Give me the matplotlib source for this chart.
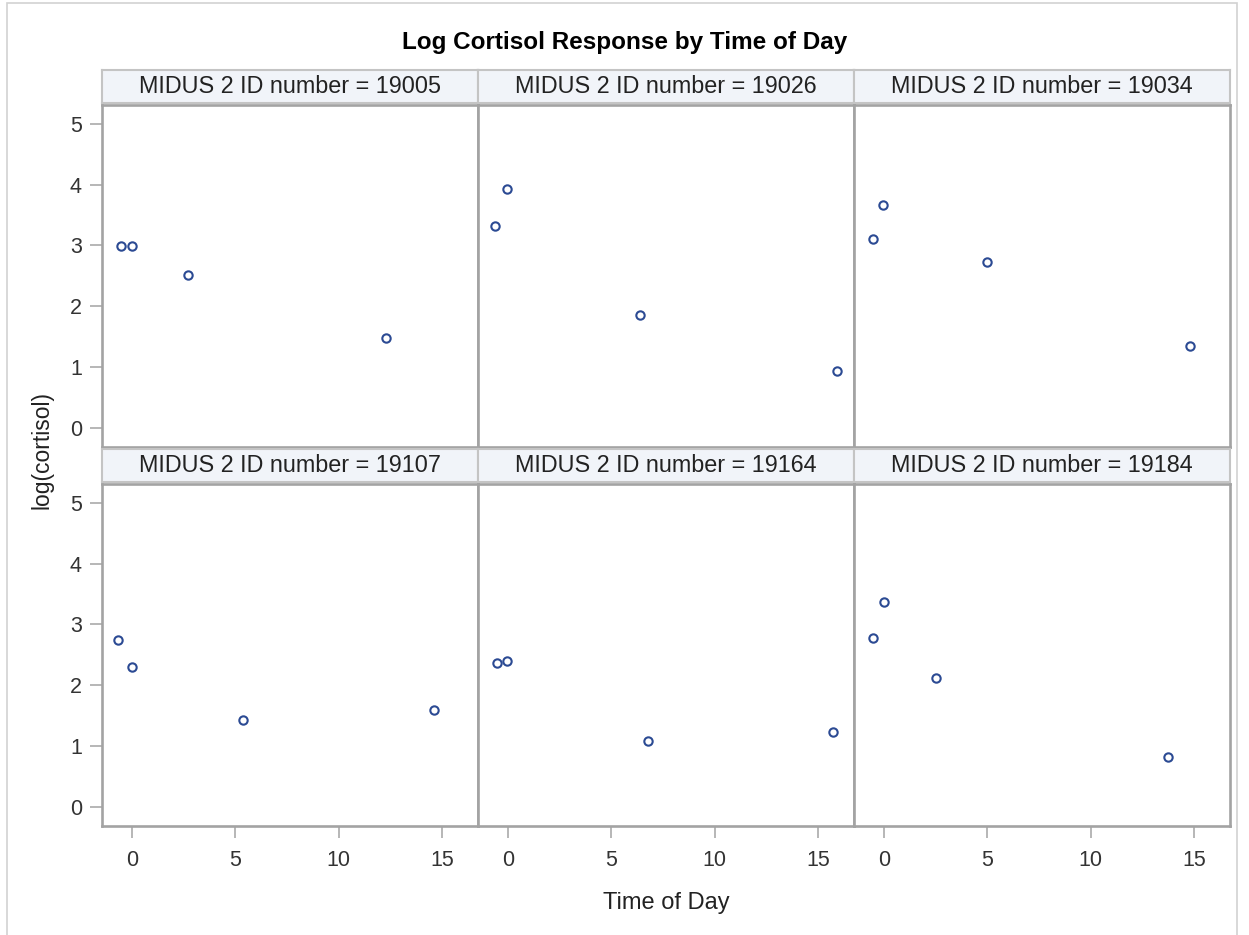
import matplotlib
matplotlib.use("Agg")
import matplotlib.pyplot as plt
from matplotlib.patches import Rectangle

plt.rcParams['font.family'] = ['Liberation Sans', 'DejaVu Sans']

# one list per subject, same order as panel_ids
panel_ids = [19005, 19026, 19034, 19107, 19164, 19184]
time_of_day = [
    [-0.55, 0.0, 2.73, 12.28],
    [-0.63, -0.06, 6.37, 15.94],
    [-0.52, -0.03, 4.97, 14.82],
    [-0.69, 0.0, 5.37, 14.63],
    [-0.53, -0.05, 6.76, 15.74],
    [-0.52, 0.0, 2.52, 13.77],
]
log_cortisol = [
    [2.99, 2.99, 2.51, 1.48],
    [3.31, 3.93, 1.86, 0.93],
    [3.11, 3.66, 2.73, 1.35],
    [2.74, 2.29, 1.43, 1.59],
    [2.37, 2.40, 1.08, 1.23],
    [2.77, 3.36, 2.11, 0.82],
]
x_ticks = [0, 5, 10, 15]
y_ticks = [0, 1, 2, 3, 4, 5]

W, H = 1249, 935
col_x = [102, 478, 854]
col_w = 376
row_header_top = [70, 449]
header_h = 33
plot_top = [105, 484]
plot_h = 342

frame_col = '#a3a3a3'
marker_col = '#2b4a93'


def px_rect(left, top, width, height):
    return [left / W, 1 - (top + height) / H, width / W, height / H]


fig = plt.figure(figsize=(W / 100, H / 100), dpi=100)

for i, pid in enumerate(panel_ids):
    r, c = divmod(i, 3)

    hax = fig.add_axes(px_rect(col_x[c], row_header_top[r], col_w, header_h))
    hax.set_facecolor('#f1f4f9')
    hax.set_xticks([])
    hax.set_yticks([])
    for s in hax.spines.values():
        s.set_color('#c4c4c4')
        s.set_linewidth(1.5)
    hax.text(0.5, 0.5, 'MIDUS 2 ID number = {}'.format(pid), ha='center', va='center',
             fontsize=16.8, color='#222222', transform=hax.transAxes)

    ax = fig.add_axes(px_rect(col_x[c], plot_top[r], col_w, plot_h))
    ax.plot(time_of_day[i], log_cortisol[i], linestyle='none', marker='o', ms=6,
            mfc='none', mec=marker_col, mew=1.5)
    ax.set_xlim(-1.45, 16.75)
    ax.set_ylim(-0.32, 5.31)
    ax.set_xticks(x_ticks)
    ax.set_yticks(y_ticks)
    for s in ax.spines.values():
        s.set_color(frame_col)
        s.set_linewidth(1.9)
    ax.tick_params(length=8.5, width=1.1, color=frame_col, labelcolor='#333333',
                   labelsize=15.5)
    ax.tick_params(axis='x', pad=9)
    ax.tick_params(axis='y', pad=6)
    if c != 0:
        ax.tick_params(axis='y', left=False, labelleft=False)
    if r != 1:
        ax.tick_params(axis='x', bottom=False, labelbottom=False)

fig.text(0.5, 1 - 43 / H, 'Log Cortisol Response by Time of Day', ha='center',
         va='center', fontsize=17.5, fontweight='bold', color='black')
fig.text(666 / W, 1 - 903 / H, 'Time of Day', ha='center', va='center',
         fontsize=17, color='#222222')
fig.text(42 / W, 1 - 450 / H, 'log(cortisol)', ha='center', va='center',
         rotation=90, fontsize=16.5, color='#222222')

# light outer border of the graph area
fig.add_artist(Rectangle((7 / W, -0.1), (1237 - 7) / W, 1.1 - 3 / H,
                         transform=fig.transFigure, fill=False,
                         edgecolor='#d2d2d2', linewidth=1.2, clip_on=False))

fig.savefig('out.png', dpi=100, facecolor='white')
